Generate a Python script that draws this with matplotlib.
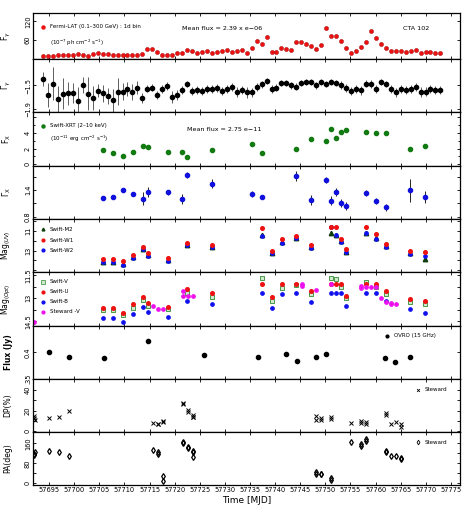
import numpy as np
import matplotlib
matplotlib.use('Agg')
from matplotlib import pyplot as plt
from matplotlib.ticker import FixedLocator, NullFormatter

plt.rcParams['font.family'] = ['Liberation Sans Narrow', 'DejaVu Sans']
plt.rcParams['mathtext.fontset'] = 'dejavusans'

# ---- Fermi-LAT daily bins
t_lat = np.linspace(57693.8, 57772.9, 81)
f_lat = [11, 11, 10, 12, 12, 12, 14, 16, 13, 11, 16, 20, 15, 16, 12, 12, 14, 13, 12, 13, 16,
         32, 32, 23, 12, 13, 13, 18, 18, 28, 25, 20, 23, 27, 19, 21, 27, 30, 23, 25, 29,
         18, 35, 58, 48, 71, 23, 23, 34, 32, 30,
         55, 54, 49, 40, 32, 45, 99, 73, 73, 58, 36, 19, 27, 37, 53, 88, 66, 48, 34, 24,
         24, 24, 23, 25, 28, 19, 21, 21, 19, 19]
g_lat = [-1.390, -1.661, -1.474, -1.735, -1.639, -1.633, -1.627, -1.757, -1.491, -1.644, -1.712,
         -1.593, -1.633, -1.678, -1.752, -1.605, -1.605, -1.554, -1.610, -1.542, -1.712,
         -1.554, -1.537, -1.667, -1.565, -1.508, -1.695, -1.661, -1.571, -1.480, -1.588,
         -1.582, -1.588, -1.559, -1.565, -1.542, -1.599, -1.559, -1.525, -1.610, -1.571,
         -1.616, -1.616, -1.531, -1.480, -1.424, -1.559, -1.537, -1.452, -1.452, -1.497,
         -1.520, -1.452, -1.441, -1.446, -1.497, -1.446, -1.469, -1.446, -1.463, -1.491,
         -1.542, -1.599, -1.559, -1.582, -1.469, -1.474, -1.554, -1.446, -1.469, -1.565,
         -1.616, -1.565, -1.576, -1.565, -1.525, -1.610, -1.605, -1.565, -1.571, -1.576]
g_lat_err = [0.12, 0.21, 0.28, 0.23, 0.26, 0.20, 0.17, 0.23, 0.14, 0.28, 0.20,
             0.11, 0.14, 0.14, 0.20, 0.23, 0.14, 0.12, 0.14, 0.11, 0.09,
             0.06, 0.06, 0.07, 0.07, 0.06, 0.10, 0.09, 0.07, 0.05, 0.07,
             0.07, 0.07, 0.07, 0.07, 0.07, 0.07, 0.07, 0.07, 0.08, 0.07,
             0.09, 0.08, 0.07, 0.06, 0.05, 0.07, 0.06, 0.05, 0.05, 0.06,
             0.06, 0.05, 0.05, 0.05, 0.06, 0.05, 0.05, 0.05, 0.05, 0.06,
             0.07, 0.07, 0.07, 0.08, 0.06, 0.06, 0.07, 0.05, 0.05, 0.07,
             0.08, 0.07, 0.07, 0.07, 0.07, 0.08, 0.08, 0.07, 0.07, 0.07]

# ---- Swift-XRT
t_xrt = [57705.76, 57707.76, 57709.75, 57711.61, 57713.60, 57714.60, 57718.59, 57721.45,
         57722.44, 57727.43, 57735.33, 57737.33, 57744.17, 57747.09, 57750.08, 57751.08,
         57752.08, 57753.07, 57754.07, 57758.06, 57760.05, 57761.98, 57766.89, 57769.82]
f_xrt = [1.76, 1.46, 1.07, 1.51, 2.36, 2.15, 1.51, 1.59, 0.94, 1.85, 2.54, 1.46,
         1.98, 3.23, 2.92, 4.52, 3.35, 4.13, 4.39, 4.17, 4.00, 3.96, 1.94, 2.28]
g_xrt = [1.22, 1.24, 1.40, 1.31, 1.21, 1.35, 1.35, 1.20, 1.74, 1.54, 1.31, 1.24,
         1.72, 1.18, 1.62, 1.16, 1.35, 1.10, 1.04, 1.33, 1.16, 1.01, 1.39, 1.25]
g_xrt_err = [0.04, 0.04, 0.05, 0.05, 0.15, 0.11, 0.05, 0.11, 0.06, 0.10, 0.06, 0.04,
             0.11, 0.11, 0.07, 0.10, 0.09, 0.09, 0.09, 0.07, 0.07, 0.07, 0.26, 0.13]

# ---- Swift-UVOT
t_uv = [57705.76, 57707.76, 57709.75, 57711.61, 57713.60, 57714.60, 57718.59, 57722.44,
        57727.43, 57737.33, 57739.33, 57741.32, 57744.17, 57747.09, 57751.08, 57752.08,
        57753.07, 57754.07, 57758.06, 57760.05, 57761.98, 57766.89, 57769.82]
m_w1 = [13.86, 13.86, 14.09, 13.45, 12.68, 13.29, 13.72, 12.28, 12.41, 10.73, 13.01, 11.84,
        11.50, 12.44, 10.65, 10.63, 11.84, 12.85, 10.67, 11.37, 12.35, 13.05, 13.19]
m_w2 = [14.19, 14.19, 14.46, 13.72, 12.88, 13.56, 14.03, 12.45, 12.65, 11.50, 13.29, 12.21,
        11.77, 12.72, 10.62, 11.45, 12.11, 13.19, 11.27, 11.80, 12.62, 13.35, 13.53]
m_m2 = [14.12, 14.12, 14.40, 13.66, 12.85, 13.50, 13.97, 12.40, 12.60, 11.44, 13.24, 12.15,
        11.72, 12.67, 11.27, 11.41, 12.06, 13.14, 11.24, 11.75, 12.57, 13.30, 13.86]

# ---- Swift optical
m_v = [13.75, 13.75, 14.08, 13.60, 13.11, 13.48, 13.71, 12.68, 12.90, 11.71, 13.15, 12.35,
       12.14, 12.72, 11.71, 11.77, 12.29, 13.00, 11.93, 12.25, 12.72, 13.26, 13.39]
m_u = [13.65, 13.65, 13.93, 13.39, 12.90, 13.28, 13.58, 12.42, 12.68, 12.08, 12.94, 12.08,
       12.08, 12.53, 12.08, 12.08, 12.08, 12.83, 12.08, 12.08, 12.51, 13.06, 13.17]
m_b = [14.25, 14.25, 14.55, 14.03, 13.54, 13.90, 14.19, 13.15, 13.37, 12.68, 13.61, 12.72,
       12.68, 13.22, 12.68, 12.68, 12.68, 13.48, 12.68, 12.68, 13.17, 13.71, 13.93]

# ---- Steward V
t_st_v = [57691.9, 57715.7, 57716.7, 57717.7, 57721.6, 57721.6, 57722.6, 57723.6, 57745.3,
          57745.3, 57748.2, 57751.1, 57757.1, 57757.1, 57758.1, 57759.1, 57760.0, 57761.1,
          57762.0, 57763.0, 57763.0, 57764.0]
m_st_v = [14.55, 13.48, 13.71, 13.71, 12.51, 12.85, 12.85, 12.85, 12.08, 12.19,
          12.46, 12.08, 12.21, 12.35, 12.29, 12.29, 12.25, 13.00, 13.26, 13.32, 13.39, 13.39]

# ---- OVRO 15 GHz
t_ovro = [57695.0, 57698.9, 57705.9, 57714.6, 57725.8, 57736.5, 57742.2, 57744.4,
          57748.1, 57750.2, 57761.9, 57763.8, 57766.8]
f_ovro = [0.400, 0.391, 0.390, 0.421, 0.395, 0.391, 0.398, 0.384, 0.391, 0.397,
          0.390, 0.382, 0.391]
f_ovro_err = [0.003, 0.003, 0.003, 0.004, 0.003, 0.003, 0.003, 0.003, 0.003, 0.003,
              0.003, 0.003, 0.003]

# ---- Steward polarization
t_pol = [57692.0, 57692.0, 57692.1, 57695.0, 57696.9, 57698.9, 57715.7, 57716.7, 57716.7,
         57717.7, 57717.7, 57721.6, 57721.6, 57722.6, 57722.6, 57723.6, 57723.6, 57723.6,
         57748.2, 57748.2, 57749.2, 57749.2, 57751.1, 57751.1, 57755.1, 57757.1, 57757.1,
         57758.1, 57758.1, 57762.0, 57762.0, 57763.0, 57764.0, 57765.0, 57765.0]
dp = [13, 15, 11, 12.3, 13.3, 19.7, 7.5, 6.5, 6.5, 10.0, 8.5, 27.8, 26.2, 20.4, 18.8,
      15.2, 13.9, 13.9, 14.6, 10.7, 12.3, 10.5, 13.6, 11.7, 8.1, 10.0, 8.0, 6.5, 9.0,
      17.2, 15.5, 6.5, 9.0, 6.5, 3.6]
pa = [113, 119, 124, 130, 125, 109, 135, 126, 117, 29, 10, 164, 160, 144, 140,
      130, 126, 107, 44, 36, 39, 36, 20, 13, 164, 157, 150, 177, 170,
      130, 126, 109, 109, 103, 96]

tops = [13, 59, 112, 166, 219, 272, 326, 379, 432, 485]
W, H = 474, 518
fig = plt.figure(figsize=(W / 100, H / 100), dpi=100)
axs = []
for i in range(9):
    ax = fig.add_axes([33 / W, 1 - tops[i + 1] / H, 427 / W, (tops[i + 1] - tops[i]) / H])
    axs.append(ax)

xt = np.arange(57695, 57776, 5)
for i, ax in enumerate(axs):
    ax.set_xlim(57691.8, 57776.8)
    ax.xaxis.set_major_locator(FixedLocator(xt))
    ax.tick_params(direction='in', top=True, right=True, length=2.5, width=0.6,
                   labelsize=4.8, pad=1.5)
    ax.tick_params(axis='y', which='both', labelrotation=90)
    for s in ax.spines.values():
        s.set_linewidth(0.9)
    if i < 8:
        ax.xaxis.set_major_formatter(NullFormatter())

sm = dict(fontsize=4.0)
lx_m, lx_t = 57693.7, 57695.1

# panel 1 : Fermi flux
ax = axs[0]
ax.plot(t_lat, f_lat, 'o', color='#ee1111', mec='#990000', mew=0.3, ms=3)
ax.set_ylim(0, 147)
ax.set_yticks([60, 120])
ax.set_ylabel(r'F$_\gamma$', fontsize=5.5)
ax.plot([lx_m], [103], 'o', color='#ee1111', ms=2.2)
ax.text(lx_t, 103, 'Fermi-LAT (0.1\u2013300 GeV) : 1d bin', va='center', **sm)
ax.text(lx_t, 53, r'(10$^{-7}$ ph cm$^{-2}$ s$^{-1}$)', va='center', **sm)
ax.text(57729.4, 96, 'Mean flux = 2.39 x e\u221206', ha='center', va='center', fontsize=4.6)
ax.text(57768.0, 96, 'CTA 102', ha='center', va='center', fontsize=4.6)

# panel 2 : Fermi index
ax = axs[1]
ax.errorbar(t_lat, g_lat, yerr=g_lat_err, fmt='o', color='k', ms=3, elinewidth=0.6,
            ecolor='#444444', capsize=0)
ax.set_ylim(-1.95, -1.05)
ax.set_yticks([-1.5, -1.9])
ax.set_yticklabels(['\u22121.5', '\u22121.9'])
ax.set_ylabel(r'$\Gamma_\gamma$', fontsize=5.5)

# panel 3 : XRT flux
ax = axs[2]
ax.plot(t_xrt, f_xrt, 'o', color='#117a11', ms=3)
ax.set_ylim(-0.25, 6.7)
ax.set_yticks([0, 2, 4, 6])
ax.set_yticklabels(['0', '2', '4', ''])
ax.yaxis.set_minor_locator(FixedLocator([1, 3, 5]))
ax.tick_params(which='minor', direction='in', length=1.5, right=True)
ax.set_ylabel(r'F$_\mathrm{X}$', fontsize=5.5)
ax.plot([lx_m], [4.94], 'o', color='#117a11', ms=2.2)
ax.text(lx_t, 4.94, 'Swift-XRT (2\u201310 keV)', va='center', **sm)
ax.text(lx_t, 3.2, r'(10$^{-11}$ erg cm$^{-2}$ s$^{-1}$)', va='center', **sm)
ax.text(57729.8, 4.5, 'Mean flux = 2.75 e\u221211', ha='center', va='center', fontsize=4.6)

# panel 4 : XRT index
ax = axs[3]
ax.errorbar(t_xrt, g_xrt, yerr=g_xrt_err, fmt='o', color='#1010dd', ms=3, elinewidth=0.6,
            ecolor='k', capsize=0)
ax.set_ylim(0.75, 1.94)
ax.set_yticks([0.8, 1.4])
ax.yaxis.set_minor_locator(FixedLocator([1.1, 1.7]))
ax.tick_params(which='minor', direction='in', length=2.5, right=True)
ax.set_ylabel(r'$\Gamma_\mathrm{X}$', fontsize=5.5)

# panel 5 : UV mags
ax = axs[4]
ax.plot(t_uv, m_m2, '^', color='#0d3d0d', ms=3.2)
ax.plot(t_uv, m_w2, 'o', color='#1010ee', ms=2.4)
ax.plot(t_uv, m_w1, 'o', color='#ee1111', ms=2.6)
ax.set_ylim(15.17, 9.82)
ax.set_yticks([10, 11, 12, 13, 14, 15])
ax.set_yticklabels(['', '11', '', '13', '', ''])
ax.set_ylabel(r'Mag$_{(UV)}$', fontsize=5.5)
for yy, mk, col, lab in [(10.85, '^', '#0d3d0d', 'Swift-M2'), (11.94, 'o', '#ee1111', 'Swift-W1'),
                         (12.95, 'o', '#1010ee', 'Swift-W2')]:
    ax.plot([lx_m], [yy], mk, color=col, ms=2)
    ax.text(lx_t, yy, lab, va='center', **sm)

# panel 6 : optical mags
ax = axs[5]
ax.plot(t_uv, m_b, 'o', color='#1010ee', ms=2.4)
ax.plot(t_uv, m_v, 's', mfc='#cfe8cf', mec='#2e8b2e', mew=0.6, ms=3.2)
ax.plot(t_uv, m_u, 'o', color='#ee1111', ms=2.6)
ax.plot(t_st_v, m_st_v, 'o', color='#ee11ee', ms=2.4)
ax.set_ylim(14.8, 11.29)
ax.set_yticks([11.5, 12.25, 13, 13.75, 14.5])
ax.set_yticklabels(['11.5', '', '13', '', '14.5'])
ax.set_ylabel(r'Mag$_{(Opt)}$', fontsize=5.5)
leg6 = [(11.93, 'Swift-V', None), (12.57, 'Swift-U', '#ee1111'),
        (13.22, 'Swift-B', '#1010ee'), (13.86, 'Steward -V', '#ee11ee')]
for yy, lab, col in leg6:
    if col is None:
        ax.plot([lx_m], [yy], 's', mfc='#cfe8cf', mec='#2e8b2e', mew=0.5, ms=2.4)
    else:
        ax.plot([lx_m], [yy], 'o', color=col, ms=2)
    ax.text(lx_t, yy, lab, va='center', **sm)

# panel 7 : OVRO
ax = axs[6]
ax.errorbar(t_ovro, f_ovro, yerr=f_ovro_err, fmt='o', color='k', ms=3, elinewidth=0.8,
            capsize=0)
ax.set_ylim(0.35, 0.45)
ax.set_yticks([0.35, 0.4, 0.45])
ax.set_yticklabels(['.35', '0.4', ''])
ax.set_ylabel('Flux (Jy)', fontsize=5.5, fontweight='bold', family='DejaVu Sans')
ax.plot([57762.3], [0.432], 'o', color='k', ms=2)
ax.text(57763.7, 0.432, 'OVRO (15 GHz)', va='center', **sm)

# panel 8 : DP
ax = axs[7]
ax.plot(t_pol, dp, 'x', color='k', ms=2.6, mew=0.7)
ax.set_ylim(-1, 51)
ax.set_yticks([0, 20, 40])
ax.yaxis.set_minor_locator(FixedLocator([10, 30]))
ax.tick_params(which='minor', direction='in', length=2, right=True)
ax.set_ylabel('DP(%)', fontsize=5.5, family='DejaVu Sans')
ax.plot([57768.4], [40.5], 'x', color='k', ms=2, mew=0.6)
ax.text(57769.8, 40.5, 'Steward', va='center', **sm)

# panel 9 : PA
ax = axs[8]
ax.plot(t_pol, pa, 'd', mfc='none', mec='k', mew=0.9, ms=3)
ax.set_ylim(-6.8, 205)
ax.set_yticks([0, 40, 80, 120, 160])
ax.set_yticklabels(['0', '', '80', '', '160'])
ax.set_ylabel('PA(deg)', fontsize=5.5, family='DejaVu Sans')
ax.plot([57768.4], [164], 'd', mfc='none', mec='k', mew=0.6, ms=2.4)
ax.text(57769.8, 164, 'Steward', va='center', **sm)
ax.set_xlabel('Time [MJD]', fontsize=6.5, labelpad=2)

for ax in axs:
    for lab in ax.get_yticklabels():
        lab.set_va('center')
    ax.yaxis.set_label_coords(-0.048, 0.5)

fig.savefig('out.png', dpi=100)
